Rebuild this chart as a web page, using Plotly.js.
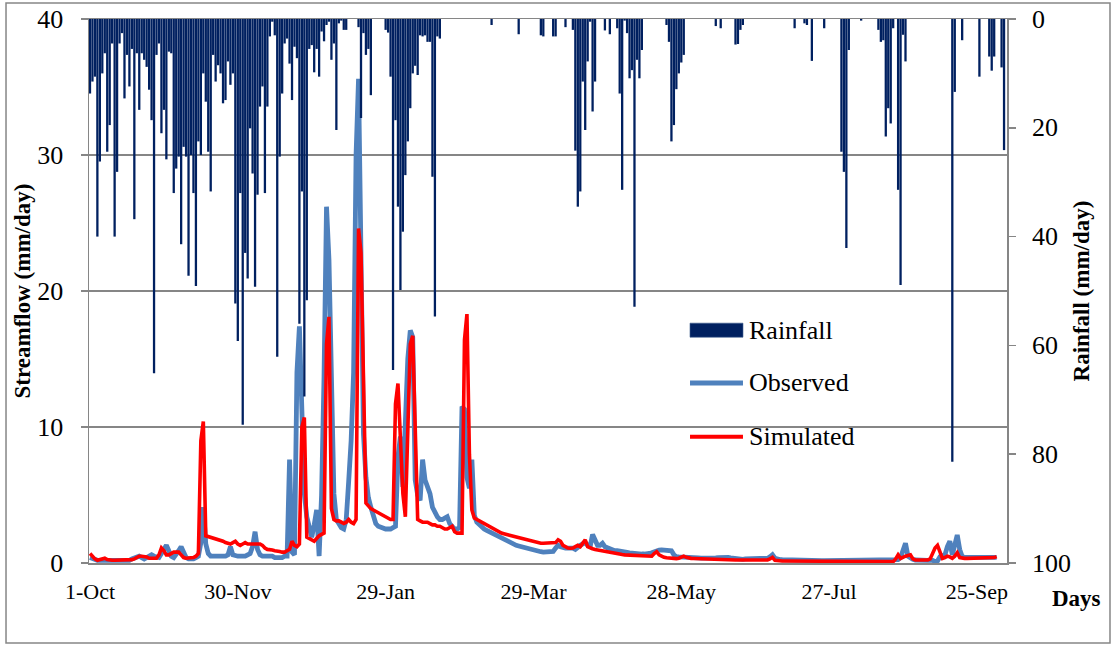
<!DOCTYPE html>
<html>
<head>
<meta charset="utf-8">
<script src="https://cdn.plot.ly/plotly-3.0.1.min.js"></script>
<style>
  html, body { margin: 0; padding: 0; background: #ffffff; }
  #chart { width: 1115px; height: 648px; }
</style>
</head>
<body>
<div id="chart"></div>
<script>
// Daily values, index 0 = 1 October.

// Rainfall (mm/day)
const rainfall = [
  13.7, 11.5, 10.6, 40, 26.2, 10.0, 6.3, 24.4, 19.5, 4.5,
  40, 28.1, 4.5, 2.6, 14.6, 6.6, 12.4, 5.5, 36.8, 6.3,
  16.7, 6.3, 7.5, 8.8, 13.0, 18.6, 65.1, 6.6, 4.5, 21.0,
  16.7, 25.8, 6.0, 6.3, 32.0, 27.5, 25.3, 41.4, 23.5, 25.3,
  47.2, 25.0, 32.0, 49.1, 22.5, 25.0, 10.0, 15.2, 24.4, 31.7,
  6.6, 11.5, 8.5, 10.0, 15.5, 14.9, 7.8, 12.1, 10.0, 52.3,
  59.2, 32.0, 74.6, 43.0, 47.7, 20.1, 28.4, 49.2, 32.3, 16.1,
  12.4, 32.0, 16.1, 3.2, 0.5, 3.0, 62.1, 25.3, 13.7, 4.5,
  3.6, 8.2, 14.9, 5.1, 7.2, 56.0, 31.7, 69.4, 51.7, 5.5,
  4.8, 9.8, 5.5, 10.6, 2.3, 4.1, 1.1, 0.5, 7.5, 4.5,
  20.4, 0.8, 0.3, 2.0, 2.0, 0, 0, 0, 0, 1.5,
  18.2, 2.6, 6.6, 5.5, 14.0, 0, 0, 0, 0, 0,
  2.0, 2.5, 10.6, 64.5, 18.6, 34.5, 49.8, 39.1, 28.7, 22.5,
  16.4, 10.0, 8.6, 10.3, 3.0, 3.2, 3.0, 4.2, 4.2, 29.0,
  54.7, 3.2, 3.6, 0, 0, 0, 0, 0, 0, 0,
  0, 0, 0, 0, 0, 0, 0, 0, 0, 0,
  0, 0, 0, 1.1, 0, 0, 0, 0, 0, 0,
  0, 0, 0, 0, 2.8, 0, 0, 0, 0, 0,
  0, 0, 0, 3.0, 3.2, 0, 0, 0, 3.2, 3.2,
  0, 0, 0, 1.5, 0, 0, 2.0, 24.2, 34.5, 31.7,
  11.5, 20.4, 7.8, 0.5, 17.0, 11.5, 0, 0, 0, 2.1,
  0, 2.8, 0, 0, 1.7, 13.7, 31.4, 0.3, 2.6, 10.9,
  9.4, 52.9, 7.5, 10.9, 5.7, 0, 0, 0, 0, 0,
  0, 0, 0, 0, 1.1, 4.2, 22.5, 19.5, 12.9, 10.0,
  8.0, 6.6, 0, 0, 0, 0, 0, 0, 0, 0,
  0, 0, 0, 0, 1.3, 0, 1.7, 0, 0, 0,
  0, 0, 4.7, 4.6, 2.0, 1.1, 0, 0, 0, 0,
  0, 0, 0, 0, 0, 0, 0, 0, 0, 0,
  0, 0, 0, 0, 0, 0, 1.7, 0, 0, 0,
  0.8, 1.1, 0, 7.7, 0, 0, 0, 0, 1.7, 0,
  0, 0, 0, 0, 0, 24.4, 28.1, 42.1, 5.7, 0,
  0, 0, 0, 0.3, 0, 0, 0, 0, 0, 0,
  2.0, 4.2, 3.9, 21.6, 16.4, 19.2, 1.7, 0, 31.4, 48.9,
  2.9, 7.8, 0, 0, 0, 0, 0, 0, 0, 0,
  0, 0, 0, 0, 0, 0, 0, 0, 0, 0,
  81.4, 13.4, 0, 0, 3.9, 0, 0, 0, 0, 0,
  0, 10.6, 0, 0, 0, 6.9, 9.5, 6.9, 0, 0,
  8.9, 24.1
];

// Observed streamflow (mm/day)
const observed = [
  0.4, 0.3, 0.2, 0.2, 0.2, 0.2, 0.2, 0.2, 0.2, 0.2,
  0.2, 0.2, 0.2, 0.2, 0.2, 0.2, 0.2, 0.3, 0.4, 0.5,
  0.5, 0.4, 0.3, 0.4, 0.5, 0.6, 0.5, 0.4, 0.4, 0.7,
  1.0, 1.3, 0.9, 0.5, 0.4, 0.6, 0.9, 1.2, 0.8, 0.4,
  0.3, 0.3, 0.3, 0.4, 0.5, 1.5, 4.1, 1.4, 0.7, 0.5,
  0.5, 0.5, 0.5, 0.5, 0.5, 0.5, 0.6, 1.2, 0.6, 0.5,
  0.5, 0.5, 0.5, 0.5, 0.6, 0.7, 1.2, 2.3, 1.0, 0.6,
  0.5, 0.5, 0.5, 0.5, 0.5, 0.4, 0.4, 0.4, 0.4, 0.5,
  0.5, 7.6, 0.8, 0.6, 14.0, 17.4, 11.3, 5.1, 3.4, 2.5,
  1.9, 2.8, 3.9, 0.5, 5.0, 13.7, 26.2, 22.3, 12.5, 5.1,
  3.2, 2.8, 2.6, 2.5, 3.2, 6.0, 9.0, 14.0, 30.0, 35.6,
  20.0, 9.5, 6.3, 4.8, 4.1, 3.5, 2.9, 2.7, 2.6, 2.5,
  2.5, 2.5, 2.5, 2.6, 2.7, 7.8, 9.3, 5.6, 10.0, 15.0,
  17.1, 16.6, 6.1, 5.0, 4.6, 7.6, 6.1, 5.5, 5.1, 4.1,
  3.7, 3.4, 3.2, 3.2, 3.3, 3.4, 2.9, 2.7, 2.5, 2.5,
  2.6, 11.5, 11.3, 6.3, 5.5, 7.6, 3.5, 3.0, 2.8, 2.7,
  2.5, 2.4, 2.3, 2.2, 2.1, 2.0, 2.0, 1.9, 1.8, 1.7,
  1.6, 1.5, 1.4, 1.3, 1.25, 1.2, 1.1, 1.05, 1.0, 0.95,
  0.9, 0.9, 0.85, 0.83, 0.8, 0.8, 0.8, 0.8, 0.85, 1.1,
  1.3, 1.2, 1.1, 1.1, 1.1, 1.1, 1.1, 1.0, 1.2, 1.3,
  1.4, 1.5, 1.3, 1.2, 2.1, 1.6, 1.3, 1.3, 1.45, 1.2,
  1.1, 1.0, 0.95, 0.9, 0.9, 0.85, 0.83, 0.8, 0.78, 0.75,
  0.72, 0.7, 0.68, 0.66, 0.66, 0.66, 0.66, 0.7, 0.75, 0.83,
  0.9, 0.95, 0.96, 0.96, 0.96, 0.96, 0.9, 0.6, 0.47, 0.45,
  0.45, 0.44, 0.43, 0.42, 0.42, 0.4, 0.38, 0.37, 0.36, 0.35,
  0.34, 0.34, 0.35, 0.37, 0.38, 0.4, 0.42, 0.42, 0.42, 0.42,
  0.38, 0.35, 0.32, 0.3, 0.28, 0.27, 0.3, 0.32, 0.34, 0.34,
  0.34, 0.34, 0.34, 0.34, 0.34, 0.34, 0.45, 0.6, 0.35, 0.28,
  0.25, 0.24, 0.23, 0.22, 0.22, 0.21, 0.2, 0.2, 0.19, 0.18,
  0.17, 0.17, 0.17, 0.17, 0.17, 0.17, 0.17, 0.17, 0.17, 0.17,
  0.17, 0.17, 0.17, 0.17, 0.17, 0.17, 0.17, 0.17, 0.17, 0.17,
  0.17, 0.17, 0.17, 0.17, 0.17, 0.17, 0.17, 0.17, 0.17, 0.17,
  0.17, 0.17, 0.17, 0.17, 0.17, 0.17, 0.17, 0.17, 0.25, 0.4,
  1.0, 1.45, 0.5, 0.34, 0.28, 0.22, 0.2, 0.2, 0.2, 0.2,
  0.2, 0.2, 0.2, 0.1, 0.15, 0.47, 0.5, 0.6, 1.2, 1.6,
  0.6, 1.3, 2.06, 1.0, 0.47, 0.42, 0.42, 0.42, 0.42, 0.42,
  0.42, 0.42, 0.42, 0.42, 0.42, 0.42, 0.42, 0.42, 0.42
];

// Simulated streamflow (mm/day)
const simulated = [
  0.7, 0.5, 0.3, 0.2, 0.25, 0.3, 0.35, 0.25, 0.2, 0.2,
  0.2, 0.2, 0.2, 0.2, 0.2, 0.2, 0.25, 0.25, 0.3, 0.4,
  0.5, 0.5, 0.5, 0.45, 0.35, 0.35, 0.35, 0.35, 0.6, 1.1,
  0.9, 0.6, 0.6, 0.7, 0.8, 0.8, 0.8, 0.6, 0.4, 0.35,
  0.35, 0.35, 0.4, 0.5, 0.7, 9.0, 10.4, 2.0, 1.95, 1.9,
  1.85, 1.8, 1.7, 1.65, 1.6, 1.5, 1.45, 1.4, 1.5, 1.6,
  1.4, 1.3, 1.4, 1.5, 1.4, 1.4, 1.4, 1.4, 1.4, 1.4,
  1.3, 1.1, 1.0, 1.0, 0.95, 0.9, 0.9, 0.85, 0.8, 0.8,
  0.9, 1.0, 1.6, 1.3, 1.2, 1.4, 10.0, 10.7, 1.9, 1.8,
  1.7, 1.6, 1.8, 2.0, 2.1, 2.2, 16.1, 18.1, 4.0, 3.2,
  3.1, 3.1, 3.0, 2.9, 3.0, 3.2, 3.0, 2.9, 3.2, 24.6,
  22.8, 14.9, 4.4, 4.2, 4.0, 3.9, 3.8, 3.7, 3.6, 3.5,
  3.4, 3.3, 3.2, 3.2, 11.7, 13.2, 8.5, 5.1, 3.4, 10.5,
  16.1, 16.7, 10.0, 3.2, 3.1, 3.0, 3.0, 3.0, 2.9, 2.8,
  2.8, 2.7, 2.7, 2.6, 2.5, 2.5, 2.6, 2.7, 2.3, 2.2,
  2.2, 2.2, 16.4, 18.3, 8.0, 3.9, 3.3, 3.2, 3.1, 3.0,
  2.9, 2.8, 2.65, 2.55, 2.45, 2.4, 2.3, 2.2, 2.15, 2.1,
  2.05, 2.0, 1.95, 1.9, 1.85, 1.8, 1.75, 1.7, 1.65, 1.6,
  1.55, 1.5, 1.48, 1.45, 1.45, 1.45, 1.45, 1.45, 1.45, 1.5,
  1.7, 1.6, 1.3, 1.2, 1.1, 1.08, 1.1, 1.2, 1.3, 1.2,
  1.5, 1.7, 1.2, 1.1, 1.05, 1.0, 0.96, 0.93, 0.9, 0.87,
  0.83, 0.8, 0.75, 0.7, 0.66, 0.64, 0.62, 0.6, 0.59, 0.58,
  0.57, 0.56, 0.54, 0.52, 0.5, 0.48, 0.47, 0.47, 0.5, 0.7,
  0.83, 0.6, 0.47, 0.42, 0.38, 0.35, 0.33, 0.32, 0.32, 0.35,
  0.45, 0.5, 0.42, 0.36, 0.34, 0.33, 0.32, 0.31, 0.3, 0.29,
  0.28, 0.27, 0.26, 0.25, 0.24, 0.24, 0.23, 0.22, 0.22, 0.22,
  0.22, 0.22, 0.22, 0.22, 0.22, 0.22, 0.22, 0.22, 0.22, 0.22,
  0.22, 0.22, 0.22, 0.22, 0.22, 0.22, 0.3, 0.42, 0.2, 0.17,
  0.15, 0.15, 0.15, 0.15, 0.15, 0.15, 0.15, 0.15, 0.15, 0.15,
  0.15, 0.1, 0.1, 0.1, 0.1, 0.1, 0.1, 0.1, 0.1, 0.1,
  0.1, 0.1, 0.1, 0.1, 0.1, 0.1, 0.1, 0.1, 0.1, 0.1,
  0.1, 0.1, 0.1, 0.1, 0.1, 0.1, 0.1, 0.1, 0.1, 0.1,
  0.1, 0.1, 0.1, 0.1, 0.1, 0.1, 0.1, 0.3, 0.6, 0.34,
  0.45, 0.5, 0.55, 0.6, 0.3, 0.22, 0.22, 0.22, 0.22, 0.22,
  0.22, 0.3, 0.7, 1.1, 1.3, 0.8, 0.34, 0.4, 0.5, 0.45,
  0.34, 0.5, 0.76, 0.4, 0.34, 0.34, 0.34, 0.34, 0.34, 0.34,
  0.34, 0.34, 0.34, 0.34, 0.34, 0.34, 0.34, 0.4, 0.47
];

// Date labels every 60 days along the horizontal axis
const tickDays = [0, 60, 120, 180, 240, 300, 360];
const tickLabels = ['1-Oct', '30-Nov', '29-Jan', '29-Mar', '28-May', '27-Jul', '25-Sep'];
// Rainfall axis ticks (right side, increasing downwards)
const rainTicks = [0, 20, 40, 60, 80, 100];

const dayIndex = n => Array.from({ length: n }, (_, i) => i);

const SERIF = '"Liberation Serif", "Times New Roman", Times, serif';
const AXIS_GREY = '#868686';
const RAIN_COLOR = '#002060';
const OBS_COLOR = '#4F81BD';
const SIM_COLOR = '#FF0000';

const traces = [
  {
    type: 'scatter', mode: 'lines', name: 'Observed',
    x: dayIndex(observed.length), y: observed,
    line: { color: OBS_COLOR, width: 4.8 },
    hoverinfo: 'skip'
  },
  {
    type: 'scatter', mode: 'lines', name: 'Simulated',
    x: dayIndex(simulated.length), y: simulated,
    line: { color: SIM_COLOR, width: 3.6 },
    hoverinfo: 'skip'
  },
  {
    type: 'bar', name: 'Rainfall',
    x: dayIndex(rainfall.length), y: rainfall, yaxis: 'y2',
    width: 0.93,
    marker: { color: RAIN_COLOR, line: { width: 0 } },
    hoverinfo: 'skip'
  }
];

// Legend drawn as keys + labels inside the plot area
const legendItems = [
  { label: 'Rainfall', kind: 'rect', y: 0.428, color: RAIN_COLOR },
  { label: 'Observed', kind: 'line', y: 0.331, color: OBS_COLOR, width: 5 },
  { label: 'Simulated', kind: 'line', y: 0.232, color: SIM_COLOR, width: 4 }
];
const keyX0 = 0.6547, keyX1 = 0.7124, textX = 0.7168;

const shapes = [
  // outer chart frame
  {
    type: 'rect', xref: 'paper', yref: 'paper',
    x0: -0.0904, x1: 1.1122, y0: -0.147, y1: 1.0294,
    line: { color: AXIS_GREY, width: 1.5 }, fillcolor: 'rgba(0,0,0,0)', layer: 'below'
  }
];
const annotations = [];
legendItems.forEach(item => {
  if (item.kind === 'rect') {
    shapes.push({
      type: 'rect', xref: 'paper', yref: 'paper',
      x0: keyX0, x1: keyX1, y0: item.y - 0.0129, y1: item.y + 0.0129,
      fillcolor: item.color, line: { color: '#3a5a8c', width: 0.6 }
    });
  } else {
    shapes.push({
      type: 'line', xref: 'paper', yref: 'paper',
      x0: keyX0, x1: keyX1, y0: item.y, y1: item.y,
      line: { color: item.color, width: item.width }
    });
  }
  annotations.push({
    xref: 'paper', yref: 'paper', x: textX, y: item.y,
    xanchor: 'left', yanchor: 'middle', showarrow: false,
    text: item.label, font: { family: SERIF, size: 26, color: '#000' }
  });
});

// Left-aligned labels for the rainfall axis
rainTicks.forEach(v => {
  annotations.push({
    xref: 'paper', yref: 'y2', x: 1.0251, y: v,
    xanchor: 'left', yanchor: 'middle', showarrow: false,
    text: String(v), font: { family: SERIF, size: 26, color: '#000' }
  });
});

annotations.push({
  xref: 'paper', yref: 'paper', x: 1.076, y: -0.066,
  xanchor: 'center', yanchor: 'middle', showarrow: false,
  text: '<b>Days</b>', font: { family: SERIF, size: 23, color: '#000' }
});

const layout = {
  width: 1115, height: 648,
  margin: { l: 89, r: 108, t: 19, b: 85, pad: 0 },
  paper_bgcolor: '#ffffff', plot_bgcolor: '#ffffff',
  font: { family: SERIF, size: 22, color: '#000' },
  showlegend: false,
  xaxis: {
    range: [-0.4, 372.2],
    tickmode: 'array', tickvals: tickDays, ticktext: tickLabels,
    showgrid: false, zeroline: false,
    showline: true, linecolor: AXIS_GREY, linewidth: 1.5, mirror: true,
    ticks: '', ticklabelstandoff: 8,
    tickfont: { family: SERIF, size: 22, color: '#000' }
  },
  yaxis: {
    range: [0, 40], tick0: 0, dtick: 10,
    showgrid: true, gridcolor: AXIS_GREY, gridwidth: 1.5,
    zeroline: false, showline: true, linecolor: AXIS_GREY, linewidth: 1.5,
    ticks: 'outside', ticklen: 7, tickwidth: 1.5, tickcolor: AXIS_GREY,
    ticklabelstandoff: 12,
    tickfont: { family: SERIF, size: 26, color: '#000' },
    title: { text: '<b>Streamflow (mm/day)</b>', font: { family: SERIF, size: 23, color: '#000' }, standoff: 0 }
  },
  yaxis2: {
    overlaying: 'y', side: 'right',
    range: [100, 0], tickmode: 'array', tickvals: rainTicks,
    showticklabels: false,
    showgrid: false, zeroline: false,
    showline: true, linecolor: AXIS_GREY, linewidth: 1.5,
    ticks: 'outside', ticklen: 7, tickwidth: 1.5, tickcolor: AXIS_GREY,
    title: { text: '<b>Rainfall (mm/day)</b>', font: { family: SERIF, size: 23, color: '#000' }, standoff: 58 }
  },
  shapes: shapes,
  annotations: annotations
};

Plotly.newPlot('chart', traces, layout, { displayModeBar: false, staticPlot: true });
</script>
</body>
</html>
